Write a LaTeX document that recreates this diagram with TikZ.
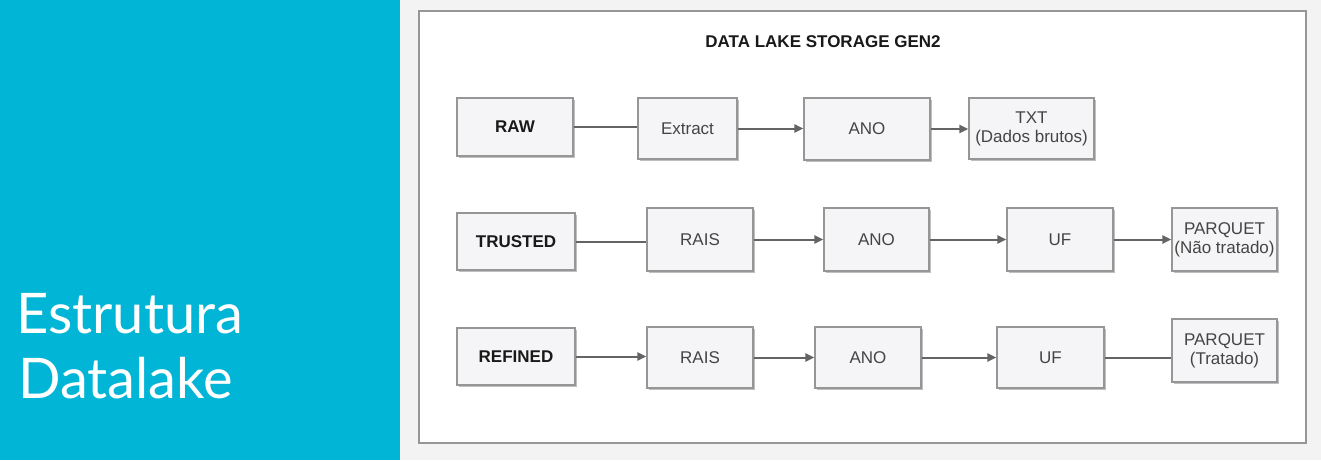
\documentclass[tikz,border=0pt]{standalone}
\usepackage{fontspec}
\setmainfont{Liberation Sans}
\newfontfamily\slidefont{Lato}
\usetikzlibrary{arrows.meta,shadows}
\definecolor{panelblue}{RGB}{0,181,214}
\definecolor{pagebg}{RGB}{243,243,243}
\definecolor{boxfill}{RGB}{245,245,247}
\definecolor{boxline}{RGB}{150,150,150}
\definecolor{wire}{RGB}{100,100,100}
\definecolor{txt}{RGB}{68,68,68}
\begin{document}
\begin{tikzpicture}[x=1pt,y=-1pt,
  stagebox/.style={draw=boxline, line width=1.2pt, fill=boxfill, inner sep=0pt,
    align=center, font=\fontsize{17}{19}\selectfont, text=txt,
    drop shadow={shadow xshift=2pt, shadow yshift=-2pt, fill=black, opacity=.25}},
  layerbox/.style={stagebox, font=\fontsize{17}{19}\selectfont\bfseries, text=black!90},
  link/.style={draw=wire, line width=2pt},
  flow/.style={link, -{Triangle[length=9pt,width=8pt]}}]
\useasboundingbox (0,0) rectangle (1321,460);
\fill[pagebg] (0,0) rectangle (1321,460);
\fill[panelblue] (0,0) rectangle (400,460);
\node[anchor=base west, text=white, inner sep=0pt, font=\slidefont\fontsize{56}{66}\selectfont] (t1) at (16,333) {Estrutura};
\node[anchor=base west, text=white, inner sep=0pt, font=\slidefont\fontsize{56}{66}\selectfont] (t2) at (18,398) {Datalake};
\draw[draw=boxline, line width=1.5pt, fill=white] (419,11) rectangle (1306,443);
\node[font=\fontsize{17}{19}\selectfont\bfseries, text=black!90, inner sep=0pt] (title) at (823,42) {DATA LAKE STORAGE GEN2};
% row 1
\node[layerbox, minimum width=116pt, minimum height=58pt] (raw) at (515,127) {RAW};
\node[stagebox, minimum width=99pt, minimum height=61pt] (ext) at (687.5,128.5) {Extract};
\node[stagebox, minimum width=126pt, minimum height=62pt] (ano1) at (867,129) {ANO};
\node[stagebox, minimum width=125pt, minimum height=61pt] (txt1) at (1031.5,128.5) {TXT\\(Dados brutos)};
% row 2
\node[layerbox, minimum width=118pt, minimum height=57pt] (trusted) at (516,241.5) {TRUSTED};
\node[stagebox, minimum width=106pt, minimum height=63pt] (rais2) at (700,239.5) {RAIS};
\node[stagebox, minimum width=105pt, minimum height=63pt] (ano2) at (876.5,239.5) {ANO};
\node[stagebox, minimum width=106pt, minimum height=63pt] (uf2) at (1060,239.5) {UF};
\node[stagebox, minimum width=105pt, minimum height=63pt] (pq2) at (1224.5,239.5) {PARQUET\\(Não tratado)};
% row 3
\node[layerbox, minimum width=118pt, minimum height=57pt] (refined) at (516,356.5) {REFINED};
\node[stagebox, minimum width=106pt, minimum height=61pt] (rais3) at (700,357.5) {RAIS};
\node[stagebox, minimum width=106pt, minimum height=61pt] (ano3) at (868,357.5) {ANO};
\node[stagebox, minimum width=107pt, minimum height=61pt] (uf3) at (1050.5,357.5) {UF};
\node[stagebox, minimum width=105pt, minimum height=63pt] (pq3) at (1224.5,350.5) {PARQUET\\(Tratado)};
% connectors
\draw[link] (raw.east) -- (raw.east -| ext.west);
\draw[flow] (ext.east) -- (ext.east -| ano1.west);
\draw[flow] (ano1.east) -- (ano1.east -| txt1.west);
\draw[link] (trusted.east) -- (trusted.east -| rais2.west);
\draw[flow] (rais2.east) -- (rais2.east -| ano2.west);
\draw[flow] (ano2.east) -- (ano2.east -| uf2.west);
\draw[flow] (uf2.east) -- (uf2.east -| pq2.west);
\draw[flow] (refined.east) -- (refined.east -| rais3.west);
\draw[flow] (rais3.east) -- (rais3.east -| ano3.west);
\draw[flow] (ano3.east) -- (ano3.east -| uf3.west);
\draw[link] (uf3.east) -- (uf3.east -| pq3.west);
\end{tikzpicture}
\end{document}
